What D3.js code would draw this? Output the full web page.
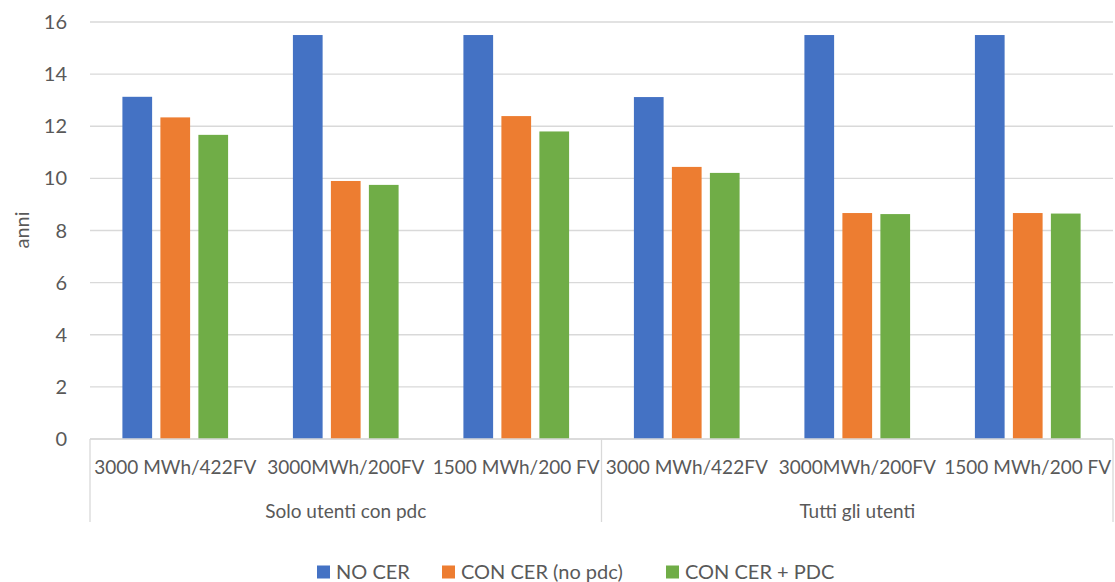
<!DOCTYPE html>
<html>
<head>
<meta charset="utf-8">
<script src="https://cdn.jsdelivr.net/npm/d3@7"></script>
<style>
  html, body { margin: 0; padding: 0; background: #fff; }
  svg { display: block; }
  text { font-family: Lato, "Open Sans", sans-serif; fill: #595959; }
</style>
</head>
<body>
<svg id="chart" width="1115" height="582"></svg>
<script>
// Scenario labels (inner axis) and their outer grouping
const categories = ["3000 MWh/422FV", "3000MWh/200FV", "1500 MWh/200 FV",
                    "3000 MWh/422FV", "3000MWh/200FV", "1500 MWh/200 FV"];
const groups = ["Solo utenti con pdc", "Tutti gli utenti"];
const seriesNames = ["NO CER", "CON CER (no pdc)", "CON CER + PDC"];
const seriesColors = ["#4472C4", "#ED7D31", "#70AD47"];

// Payback period (anni) per scenario
const noCer       = [13.13, 15.5, 15.5, 13.12, 15.5, 15.5];
const conCerNoPdc = [12.34, 9.9, 12.39, 10.44, 8.67, 8.67];
const conCerPdc   = [11.67, 9.75, 11.8, 10.21, 8.63, 8.65];
const yTicks = [0, 2, 4, 6, 8, 10, 12, 14, 16];

const series = [noCer, conCerNoPdc, conCerPdc];

const svg = d3.select("#chart");
const m = { left: 90, right: 1113, top: 22, bottom: 439 };

const x = d3.scaleBand()
  .domain(d3.range(categories.length))
  .range([m.left, m.right])
  .paddingInner(0).paddingOuter(0);

const xSub = d3.scaleBand()
  .domain(d3.range(series.length))
  .range([0, x.bandwidth()])
  .paddingInner(0.218)
  .paddingOuter(0.853);

const y = d3.scaleLinear().domain([0, 16]).range([m.bottom, m.top]);

// Horizontal gridlines
svg.append("g")
  .selectAll("line")
  .data(yTicks)
  .join("line")
  .attr("x1", m.left).attr("x2", m.right)
  .attr("y1", d => y(d)).attr("y2", d => y(d))
  .attr("stroke", "#d9d9d9").attr("stroke-width", 1.3);

// Y tick labels
svg.append("g")
  .selectAll("text")
  .data(yTicks)
  .join("text")
  .attr("x", 67).attr("y", d => y(d))
  .attr("dy", "0.35em")
  .attr("text-anchor", "end")
  .attr("font-size", 20)
  .text(d => d);

// Y axis title
svg.append("text")
  .attr("transform", "translate(22,230) rotate(-90)")
  .attr("text-anchor", "middle")
  .attr("dy", "0.35em")
  .attr("font-size", 20)
  .text("anni");

// Bars
const rows = categories.map((c, i) => series.map((s, j) => ({ i, j, v: s[i] })));
svg.append("g")
  .selectAll("g")
  .data(rows)
  .join("g")
  .attr("transform", (d, i) => `translate(${x(i)},0)`)
  .selectAll("rect")
  .data(d => d)
  .join("rect")
  .attr("x", d => xSub(d.j))
  .attr("width", xSub.bandwidth())
  .attr("y", d => y(d.v))
  .attr("height", d => y(0) - y(d.v))
  .attr("fill", d => seriesColors[d.j]);

// Category axis lines: baseline and group separators
const axis = svg.append("g").attr("stroke", "#d9d9d9").attr("stroke-width", 1.3);
axis.append("line")
  .attr("x1", m.left).attr("x2", m.right)
  .attr("y1", y(0)).attr("y2", y(0));
const sepX = [m.left, x(3), m.right];
axis.selectAll("line.sep")
  .data(sepX)
  .join("line")
  .attr("class", "sep")
  .attr("x1", d => d).attr("x2", d => d)
  .attr("y1", y(0)).attr("y2", 522);

// Category labels
svg.append("g")
  .selectAll("text")
  .data(categories)
  .join("text")
  .attr("x", (d, i) => x(i) + x.bandwidth() / 2)
  .attr("y", 467)
  .attr("dy", "0.35em")
  .attr("text-anchor", "middle")
  .attr("font-size", 19)
  .text(d => d);

// Group labels
svg.append("g")
  .selectAll("text")
  .data(groups)
  .join("text")
  .attr("x", (d, i) => (x(i * 3) + x(i * 3 + 2) + x.bandwidth()) / 2)
  .attr("y", 511)
  .attr("dy", "0.35em")
  .attr("text-anchor", "middle")
  .attr("font-size", 19)
  .text(d => d);

// Legend
const legendX = [317, 442, 666];
const legend = svg.append("g")
  .selectAll("g")
  .data(seriesNames)
  .join("g")
  .attr("transform", (d, i) => `translate(${legendX[i]},572)`);
legend.append("rect")
  .attr("x", 0).attr("y", -6.5)
  .attr("width", 13).attr("height", 13)
  .attr("fill", (d, i) => seriesColors[i]);
legend.append("text")
  .attr("x", 19).attr("dy", "0.35em")
  .attr("font-size", 20)
  .text(d => d);
</script>
</body>
</html>
